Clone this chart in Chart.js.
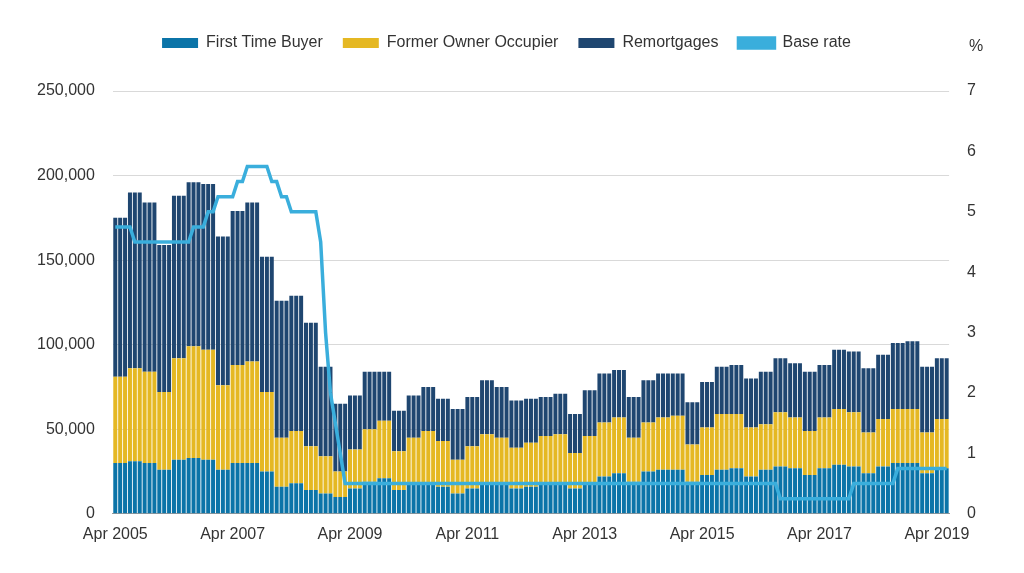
<!DOCTYPE html>
<html>
<head>
<meta charset="utf-8">
<script src="https://cdn.jsdelivr.net/npm/chart.js@4/dist/chart.umd.min.js"></script>
<style>
  html, body { margin: 0; padding: 0; background: #fff; }
  #wrap { width: 1024px; height: 573px; }
</style>
</head>
<body>
<div id="wrap"><canvas id="chart"></canvas></div>
<script>
// Quarterly values (thousands), Q2 2005 .. Q2 2019
const firstTimeBuyer = [30,31,30,26,32,33,32,26,30,30,25,16,18,14,12,10,
  15,19,21,14,17,18,16,12,15,18,17,15,16,17,17,15,18,22,24,19,25,26,26,19,
  23,26,27,22,26,28,27,23,27,29,28,24,28,30,30,24,27];
const formerOwnerTop = [81,86,84,72,92,99,97,76,88,90,72,45,49,40,34,25,
  38,50,55,37,45,49,43,32,40,47,45,39,42,46,47,36,46,54,57,45,54,57,58,41,
  51,59,59,51,53,60,57,49,57,62,60,48,56,62,62,48,56];
const totalLoans = [175,190,184,159,188,196,195,164,179,184,152,126,129,113,87,65,
  70,84,84,61,70,75,68,62,69,79,75,67,68,69,71,59,73,83,85,69,79,83,83,66,
  78,87,88,80,84,92,89,84,88,97,96,86,94,101,102,87,92];
// Bank Rate changes: [months after Apr 2005, new rate]
const rateChanges = [[0,4.75],[4,4.5],[16,4.75],[19,5.0],[21,5.25],[25,5.5],[27,5.75],
  [32,5.5],[34,5.25],[36,5.0],[42,4.5],[43,3.0],[44,2.0],[45,1.5],[46,1.0],[47,0.5],
  [136,0.25],[151,0.5],[160,0.75]];
const monthNames = ["Jan","Feb","Mar","Apr","May","Jun","Jul","Aug","Sep","Oct","Nov","Dec"];

const labels = [], ftb = [], foo = [], rem = [], rate = [];
let r = 0;
for (let m = 0; m < 171; m++) {
  const mi = (3 + m) % 12, yr = 2005 + Math.floor((3 + m) / 12);
  labels.push(monthNames[mi] + " " + yr);
  const q = Math.floor(m / 3);
  ftb.push(firstTimeBuyer[q] * 1000);
  foo.push((formerOwnerTop[q] - firstTimeBuyer[q]) * 1000);
  rem.push((totalLoans[q] - formerOwnerTop[q]) * 1000);
  rateChanges.forEach(c => { if (c[0] === m) r = c[1]; });
  rate.push(r);
}

const FONT = "'Liberation Sans', Arial, sans-serif";

const percentLabel = {
  id: "percentLabel",
  beforeInit(chart) {
    const fit = chart.legend.fit;
    chart.legend.fit = function () { fit.call(this); this.height += 30; };
  },
  afterDraw(chart) {
    const ctx = chart.ctx;
    ctx.save();
    ctx.font = "16px " + FONT;
    ctx.fillStyle = "#333";
    ctx.textAlign = "center";
    ctx.fillText("%", 976, 47);
    ctx.restore();
  }
};

new Chart(document.getElementById("chart"), {
  type: "bar",
  data: {
    labels,
    datasets: [
      { type: "line", label: "Base rate", data: rate, yAxisID: "y2", borderColor: "#3aaedc",
        backgroundColor: "#3aaedc", borderWidth: 3.5, pointRadius: 0, pointStyle: "line", order: 0 },
      { label: "First Time Buyer", data: ftb, backgroundColor: "#0b74a8", stack: "s", order: 1, pointStyle: "rect" },
      { label: "Former Owner Occupier", data: foo, backgroundColor: "#e5b823", stack: "s", order: 1, pointStyle: "rect" },
      { label: "Remortgages", data: rem, backgroundColor: "#1f4670", stack: "s", order: 1, pointStyle: "rect" }
    ]
  },
  options: {
    responsive: true,
    maintainAspectRatio: false,
    animation: false,
    layout: { padding: { left: 19, right: 30, top: 15, bottom: 26 } },
    datasets: { bar: { categoryPercentage: 1, barPercentage: 0.82 } },
    plugins: {
      legend: {
        position: "top",
        align: "center",
        labels: {
          font: { size: 16, family: FONT }, color: "#333",
          boxWidth: 36, boxHeight: 10, padding: 20,
          sort: (a, b) => (a.datasetIndex === 0 ? 1 : 0) - (b.datasetIndex === 0 ? 1 : 0)
        }
      },
      tooltip: { enabled: false }
    },
    scales: {
      x: {
        stacked: true,
        grid: { display: false, drawTicks: true },
        border: { color: "#999" },
        ticks: {
          autoSkip: false, maxRotation: 0, color: "#333",
          font: { size: 16, family: FONT },
          callback: (v, i) => (i % 24 === 0 ? labels[i] : "")
        }
      },
      y: {
        stacked: true, min: 0, max: 250000,
        ticks: { stepSize: 50000, color: "#333", padding: 18,
          font: { size: 16, family: FONT },
          callback: v => v.toLocaleString("en-GB") },
        grid: { color: "#d9d9d9", drawTicks: false },
        border: { display: false }
      },
      y2: {
        position: "right", min: 0, max: 7,
        ticks: { stepSize: 1, color: "#333", padding: 18,
          font: { size: 16, family: FONT } },
        grid: { display: false, drawTicks: false },
        border: { display: false }
      }
    }
  },
  plugins: [percentLabel]
});
</script>
</body>
</html>
